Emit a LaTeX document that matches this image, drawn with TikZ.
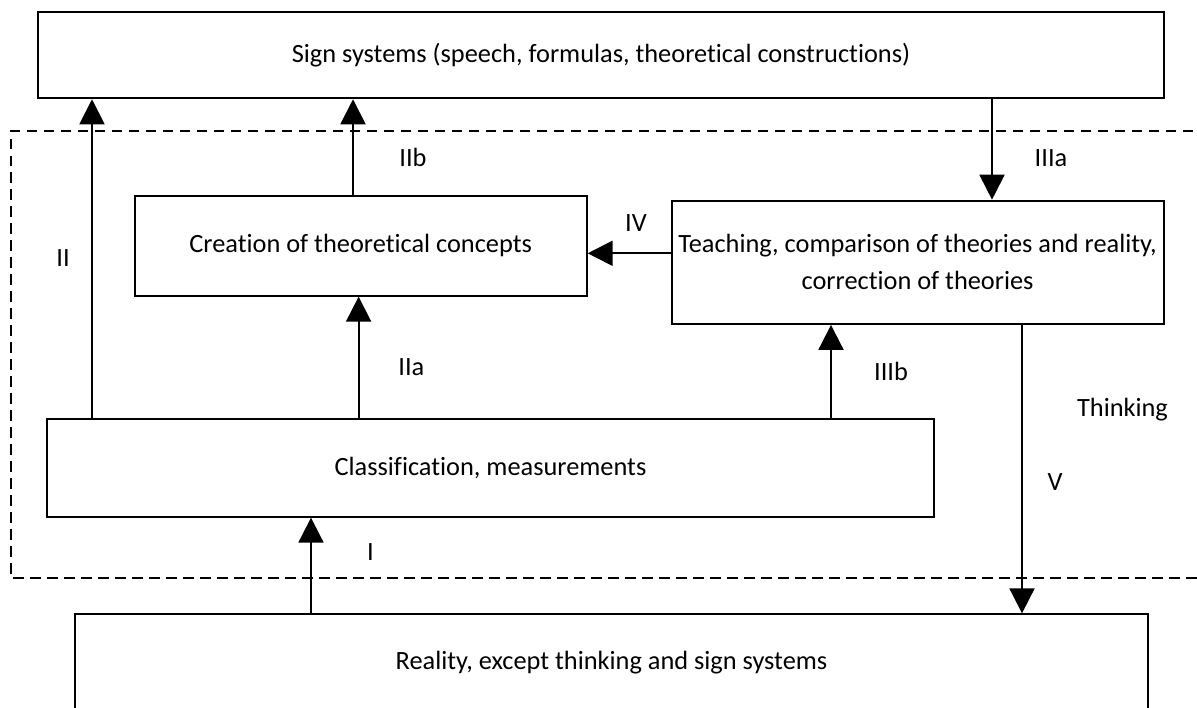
\documentclass[tikz,border=0pt]{standalone}
\usepackage{fontspec}
\setmainfont{Carlito}[Ligatures=NoCommon]
\usepackage{tikz}
\usetikzlibrary{positioning,arrows.meta}

\begin{document}
\begin{tikzpicture}[x=0.02cm, y=-0.02cm, line width=1.1pt, >={Triangle[length=0.5cm, width=0.5cm]},
    box/.style={draw, inner sep=0pt, align=center, font=\fontsize{15}{21}\selectfont},
    lbl/.style={inner sep=0pt, font=\fontsize{15}{17}\selectfont}]
    \useasboundingbox (0,0) rectangle (1197,707);
    \clip (0,0) rectangle (1197,707);
    % thinking area (open to the right)
    \draw[dash pattern=on 0.21cm off 0.13cm] (1210,131) -- (10.7,131) -- (10.7,577.7) -- (1210,577.7);
    \node[box, minimum width=1126*0.02cm, minimum height=86.6*0.02cm] (sign) at (601,55) {Sign systems (speech, formulas, theoretical constructions)};
    \node[box, minimum width=452*0.02cm, minimum height=100*0.02cm] (crea) at (360.7,245.7) {Creation of theoretical concepts};
    \node[box, minimum width=492*0.02cm, minimum height=123.3*0.02cm] (teach) at (917.6,262.3) {Teaching, comparison of theories and reality,\\ correction of theories};
    \node[box, minimum width=887.7*0.02cm, minimum height=97.4*0.02cm] (clas) at (490.5,468) {Classification, measurements};
    \node[box, minimum width=1073.8*0.02cm, minimum height=97.4*0.02cm] (real) at (611.5,663) {Reality, except thinking and sign systems};
    \draw[->] (clas.north -| 92,0) -- (sign.south -| 92,0);
    \draw[->] (crea.north -| 353,0) -- (sign.south -| 353,0);
    \draw[->] (clas.north -| 358.6,0) -- (crea.south -| 358.6,0);
    \draw[->] (sign.south -| 992,0) -- (teach.north -| 992,0);
    \draw[->] (teach.west |- 0,253.3) -- (crea.east |- 0,253.3);
    \draw[->] (clas.north -| 831,0) -- (teach.south -| 831,0);
    \draw[->] (teach.south -| 1022,0) -- (real.north -| 1022,0);
    \draw[->] (real.north -| 311,0) -- (clas.south -| 311,0);
    \node[lbl] (lII) at (63,258) {II};
    \node[lbl] (lIIb) at (413,157.7) {IIb};
    \node[lbl] (lIIa) at (411.4,366.7) {IIa};
    \node[lbl] (lIIIa) at (1051,157.7) {IIIa};
    \node[lbl] (lIV) at (636,222.7) {IV};
    \node[lbl] (lIIIb) at (891,371.7) {IIIb};
    \node[lbl] (lV) at (1055,481.7) {V};
    \node[lbl] (think) at (1122.5,409.3) {Thinking};
    \node[lbl] (lI) at (370.5,552.3) {I};
  \end{tikzpicture}
\end{document}
